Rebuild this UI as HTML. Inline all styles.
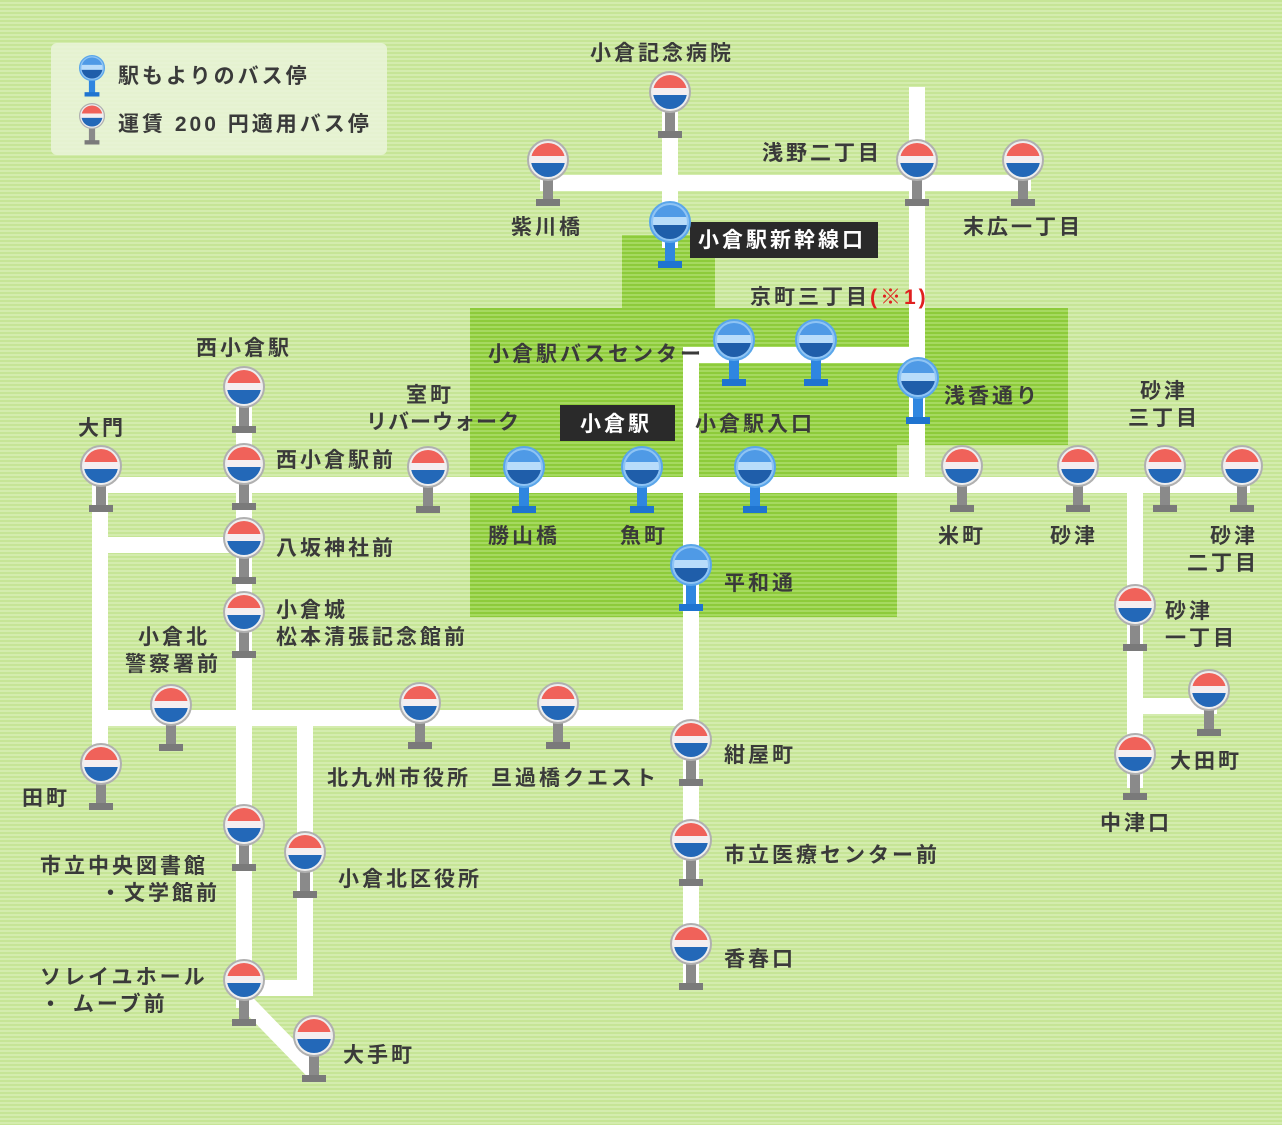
<!DOCTYPE html>
<html><head><meta charset="utf-8"><style>
html,body{margin:0;padding:0;}
body{width:1282px;height:1125px;overflow:hidden;}
svg text{font-family:"Liberation Sans","Noto Sans CJK JP",sans-serif;font-weight:bold;fill:#3a3a3a;font-size:21px;letter-spacing:3px;}
</style></head><body>
<svg width="1282" height="1125" viewBox="0 0 1282 1125" xmlns="http://www.w3.org/2000/svg">
<defs>
<pattern id="stripes" width="4" height="4" patternUnits="userSpaceOnUse"><rect width="4" height="4" fill="#d4ecae"/><rect width="4" height="2" fill="#c6e596"/></pattern>
<pattern id="zstripes" width="4" height="4" patternUnits="userSpaceOnUse"><rect width="4" height="4" fill="#a6d960"/><rect width="4" height="2" fill="#8dcb3a"/></pattern>
<clipPath id="cc"><circle cx="0" cy="0" r="17"/></clipPath>
<g id="rs">
<rect x="-5" y="16" width="10" height="26" fill="#8a8a8a"/>
<rect x="-12" y="39" width="24" height="7" fill="#7a7a7a"/>
<circle r="20" fill="#eee" stroke="#b0b0b0" stroke-width="2"/>
<g clip-path="url(#cc)"><rect x="-20" y="-20" width="40" height="16" fill="#f0625a"/><rect x="-20" y="-4" width="40" height="7" fill="#f4eef0"/><rect x="-20" y="3" width="40" height="20" fill="#2368b8"/></g>
</g>
<g id="bs">
<rect x="-5" y="16" width="10" height="26" fill="#2f86e0"/>
<rect x="-12" y="39" width="24" height="7" fill="#1f74d0"/>
<circle r="20" fill="#8fc4f4" stroke="#5aa6ea" stroke-width="2"/>
<g clip-path="url(#cc)"><rect x="-20" y="-20" width="40" height="15" fill="#4f9ae6"/><rect x="-20" y="-5" width="40" height="8" fill="#b8dcfa"/><rect x="-20" y="3" width="40" height="20" fill="#1f5eaa"/></g>
</g>
</defs>
<rect width="1282" height="1125" fill="url(#stripes)"/>
<g fill="url(#zstripes)">
<rect x="622" y="235" width="93" height="73"/>
<rect x="470" y="308" width="598" height="137"/>
<rect x="470" y="445" width="427" height="172"/>
</g>
<rect x="51" y="43" width="336" height="112" rx="6" fill="#eaf5da" opacity="0.85"/>
<g stroke="#fff" stroke-width="16" fill="none" stroke-linecap="square">
<path d="M670 92V240"/>
<path d="M548 183H1023"/>
<path d="M917 95V485"/>
<path d="M691 355H917"/>
<path d="M691 355V980"/>
<path d="M100 485H1242"/>
<path d="M100 485V770"/>
<path d="M100 545H244"/>
<path d="M244 385V1000"/>
<path d="M100 718H691"/>
<path d="M305 718V988H244"/>
<path d="M1135 485V780"/>
<path d="M1135 706H1209"/>
</g>
<path d="M244 1000L314 1072" stroke="#fff" stroke-width="16"/>
<rect x="690" y="222" width="188" height="36" fill="#2a2a2a"/>
<rect x="560" y="405" width="115" height="36" fill="#2a2a2a"/>
<g>
<use href="#rs" x="670" y="92"/><use href="#rs" x="548" y="160"/><use href="#rs" x="917" y="160"/><use href="#rs" x="1023" y="160"/>
<use href="#rs" x="244" y="387"/><use href="#rs" x="101" y="466"/><use href="#rs" x="244" y="464"/><use href="#rs" x="428" y="467"/>
<use href="#rs" x="962" y="466"/><use href="#rs" x="1078" y="466"/><use href="#rs" x="1165" y="466"/><use href="#rs" x="1242" y="466"/>
<use href="#rs" x="244" y="538"/><use href="#rs" x="244" y="612"/><use href="#rs" x="1135" y="605"/><use href="#rs" x="1209" y="690"/>
<use href="#rs" x="1135" y="754"/><use href="#rs" x="171" y="705"/><use href="#rs" x="420" y="703"/><use href="#rs" x="558" y="703"/>
<use href="#rs" x="691" y="740"/><use href="#rs" x="101" y="764"/><use href="#rs" x="244" y="825"/><use href="#rs" x="305" y="852"/>
<use href="#rs" x="691" y="840"/><use href="#rs" x="691" y="944"/><use href="#rs" x="244" y="980"/><use href="#rs" x="314" y="1036"/>
</g>
<g>
<use href="#bs" x="670" y="222"/><use href="#bs" x="734" y="340"/><use href="#bs" x="816" y="340"/><use href="#bs" x="918" y="378"/>
<use href="#bs" x="524" y="467"/><use href="#bs" x="642" y="467"/><use href="#bs" x="755" y="467"/><use href="#bs" x="691" y="565"/>
</g>
<g transform="translate(92 68) scale(0.62)"><use href="#bs"/></g>
<g transform="translate(92 116) scale(0.62)"><use href="#rs"/></g>
<text x="118" y="83">駅もよりのバス停</text>
<text x="118" y="131">運賃 200 円適用バス停</text>
<text x="590" y="60">小倉記念病院</text>
<text x="762" y="160">浅野二丁目</text>
<text x="511" y="234">紫川橋</text>
<text x="963" y="234">末広一丁目</text>
<text x="698" y="247" style="fill:#fff">小倉駅新幹線口</text>
<text x="750" y="304">京町三丁目<tspan style="fill:#e02020">(※1)</tspan></text>
<text x="488" y="361">小倉駅バスセンター</text>
<text x="196" y="355">西小倉駅</text>
<text x="406" y="402">室町</text>
<text x="366" y="429" style="letter-spacing:1px">リバーウォーク</text>
<text x="580" y="431" style="fill:#fff">小倉駅</text>
<text x="695" y="431">小倉駅入口</text>
<text x="944" y="403">浅香通り</text>
<text x="1140" y="398">砂津</text>
<text x="1128" y="425">三丁目</text>
<text x="78" y="435">大門</text>
<text x="276" y="467">西小倉駅前</text>
<text x="488" y="543">勝山橋</text>
<text x="620" y="543">魚町</text>
<text x="938" y="543">米町</text>
<text x="1050" y="543">砂津</text>
<text x="1210" y="543">砂津</text>
<text x="1187" y="570">二丁目</text>
<text x="276" y="555">八坂神社前</text>
<text x="724" y="590">平和通</text>
<text x="276" y="617">小倉城</text>
<text x="276" y="644">松本清張記念館前</text>
<text x="138" y="644">小倉北</text>
<text x="125" y="671">警察署前</text>
<text x="1165" y="618">砂津</text>
<text x="1165" y="645">一丁目</text>
<text x="724" y="762">紺屋町</text>
<text x="1170" y="768">大田町</text>
<text x="1100" y="830">中津口</text>
<text x="22" y="805">田町</text>
<text x="327" y="785">北九州市役所</text>
<text x="491" y="785">旦過橋クエスト</text>
<text x="724" y="862">市立医療センター前</text>
<text x="40" y="873">市立中央図書館</text>
<text x="100" y="900">・文学館前</text>
<text x="338" y="886">小倉北区役所</text>
<text x="724" y="966">香春口</text>
<text x="40" y="984">ソレイユホール</text>
<text x="40" y="1011">・ ムーブ前</text>
<text x="343" y="1062">大手町</text>
</svg>
</body></html>
